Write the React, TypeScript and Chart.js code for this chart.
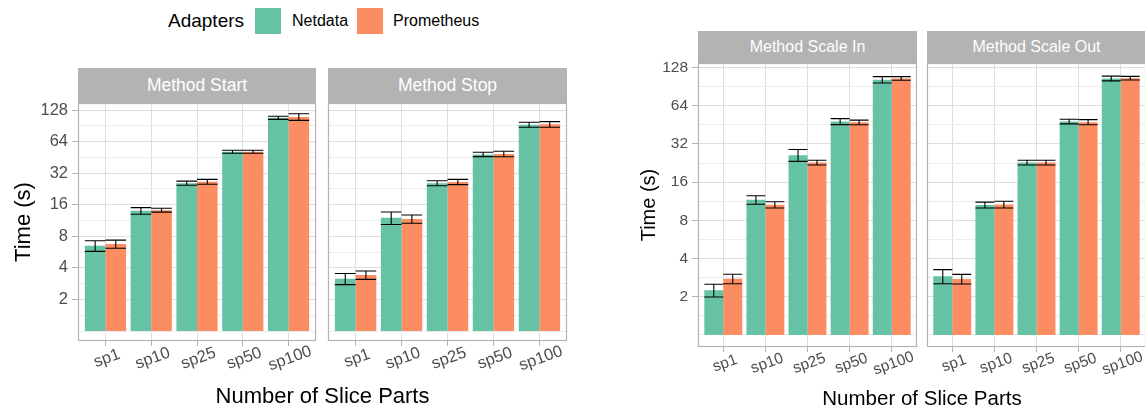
import React, { useEffect, useRef } from 'react';
import { Chart, registerables } from 'chart.js';

Chart.register(...registerables);

const FONT = "'Liberation Sans', Arial, Helvetica, sans-serif";
Chart.defaults.font.family = FONT;

// ---------- data ----------
const categories = ['sp1', 'sp10', 'sp25', 'sp50', 'sp100'];
const seriesNames = ['Netdata', 'Prometheus'];
const seriesColors = ['#66C2A5', '#FC8D62'];
const facetTitles = ['Method Start', 'Method Stop', 'Method Scale In', 'Method Scale Out'];
const legendTitle = 'Adapters';
const xAxisTitle = 'Number of Slice Parts';
const yAxisTitle = 'Time (s)';
const yTickValues = [2, 4, 8, 16, 32, 64, 128];
const yTickLabels = ['2', '4', '8', '16', '32', '64', '128'];
const barBase = 1;

const startNetdata = [6.5, 14.0, 25.7, 51.2, 108];
const startNetdataErr = [0.75, 1.0, 1.15, 1.7, 3.7];
const startPrometheus = [6.75, 14.2, 26.5, 51.2, 110];
const startPrometheusErr = [0.6, 0.6, 1.4, 1.7, 8];

const stopNetdata = [3.15, 12.0, 25.7, 48.3, 92.7];
const stopNetdataErr = [0.38, 1.65, 1.4, 2.3, 5.0];
const stopPrometheus = [3.42, 11.7, 26.4, 48.8, 93.5];
const stopPrometheusErr = [0.31, 1.05, 1.5, 2.9, 5.7];

const scaleInNetdata = [2.25, 11.6, 26.1, 48.0, 102.5];
const scaleInNetdataErr = [0.26, 0.9, 2.8, 2.6, 6.0];
const scaleInPrometheus = [2.77, 10.6, 22.8, 47.3, 105];
const scaleInPrometheusErr = [0.24, 0.6, 1.0, 2.0, 3.5];

const scaleOutNetdata = [2.9, 10.56, 22.8, 48.0, 105];
const scaleOutNetdataErr = [0.37, 0.57, 1.0, 2.0, 4.5];
const scaleOutPrometheus = [2.76, 10.65, 22.8, 47.5, 105.5];
const scaleOutPrometheusErr = [0.24, 0.65, 1.0, 2.2, 3.5];

// ---------- plugin: error bars, panel border, x labels ----------
const panelPlugin: any = {
  id: 'panelDecor',
  afterDatasetsDraw(chart: any) {
    const { ctx, chartArea, scales } = chart;
    const y = scales.y;
    ctx.save();
    ctx.strokeStyle = '#000000';
    ctx.lineWidth = 1.1;
    chart.data.datasets.forEach((ds: any, di: number) => {
      const meta = chart.getDatasetMeta(di);
      meta.data.forEach((el: any, i: number) => {
        const m = ds.means[i];
        const e = ds.errs[i];
        const top = y.getPixelForValue(m + e);
        const bot = y.getPixelForValue(m - e);
        const half = el.width / 2;
        ctx.beginPath();
        ctx.moveTo(el.x, top);
        ctx.lineTo(el.x, bot);
        ctx.moveTo(el.x - half, top);
        ctx.lineTo(el.x + half, top);
        ctx.moveTo(el.x - half, bot);
        ctx.lineTo(el.x + half, bot);
        ctx.stroke();
      });
    });
    ctx.strokeStyle = '#B3B3B3';
    ctx.lineWidth = 1.2;
    ctx.strokeRect(chartArea.left + 0.5, chartArea.top + 0.5, chartArea.width - 1, chartArea.height - 1);
    ctx.restore();
  },
  afterDraw(chart: any, _args: any, opts: any) {
    const { ctx, chartArea, scales } = chart;
    const xs = scales.x;
    ctx.save();
    ctx.fillStyle = '#4D4D4D';
    ctx.font = `${opts.font}px ${FONT}`;
    ctx.textAlign = 'center';
    ctx.textBaseline = 'middle';
    categories.forEach((c, i) => {
      const x = xs.getPixelForValue(i + 1) + opts.dx;
      const yy = chartArea.bottom + opts.dy;
      ctx.save();
      ctx.translate(x, yy);
      ctx.rotate((-20 * Math.PI) / 180);
      ctx.fillText(c, 0, 0);
      ctx.restore();
    });
    ctx.restore();
  },
};

type PanelProps = {
  left: number;
  top: number;
  width: number;
  height: number;
  yAxisW: number;
  showY: boolean;
  yMin: number;
  yMax: number;
  netdata: number[];
  netdataErr: number[];
  prometheus: number[];
  prometheusErr: number[];
  tickFont: number;
  labelDx: number;
  labelDy: number;
};

function Panel(p: PanelProps) {
  const ref = useRef<HTMLCanvasElement>(null);
  const padL = 2;
  const padT = 22;
  const padR = 4;
  const xAxisH = 44;
  const cw = padL + p.yAxisW + p.width + padR;
  const ch = padT + p.height + xAxisH;

  useEffect(() => {
    const isMajor = (v: number) => yTickValues.some((t) => Math.abs(t - v) < 1e-6);
    const ext = [yTickValues[0] / 2, ...yTickValues, yTickValues[yTickValues.length - 1] * 2];
    const minor: number[] = [];
    for (let i = 0; i < ext.length - 1; i++) minor.push(Math.sqrt(ext[i] * ext[i + 1]));
    const gridValues = [...ext, ...minor]
      .filter((v) => v >= p.yMin && v <= p.yMax)
      .sort((a, b) => a - b);

    const series = [
      { means: p.netdata, errs: p.netdataErr },
      { means: p.prometheus, errs: p.prometheusErr },
    ];

    const chart = new Chart(ref.current as HTMLCanvasElement, {
      type: 'bar',
      data: {
        datasets: series.map((s, si) => ({
          label: seriesNames[si],
          data: s.means.map((v, i) => ({ x: i + 1, y: [barBase, v] })),
          means: s.means,
          errs: s.errs,
          backgroundColor: seriesColors[si],
          borderWidth: 0,
          categoryPercentage: 0.9,
          barPercentage: 1.0,
        })) as any,
      },
      options: {
        responsive: false,
        animation: false,
        events: [],
        layout: { padding: { left: padL, top: padT, right: padR, bottom: 0 } },
        plugins: {
          legend: { display: false },
          tooltip: { enabled: false },
          title: { display: false },
          panelDecor: { font: p.tickFont, dx: p.labelDx, dy: p.labelDy },
        } as any,
        scales: {
          x: {
            type: 'linear',
            offset: false,
            min: 0.4,
            max: categories.length + 0.6,
            bounds: 'data',
            afterBuildTicks: (s: any) => {
              s.ticks = categories.map((_, i) => ({ value: i + 1 }));
            },
            afterFit: (s: any) => {
              s.height = xAxisH;
            },
            ticks: { display: false },
            grid: {
              offset: false,
              color: '#DEDEDE',
              lineWidth: 1,
              drawTicks: true,
              tickLength: 5,
              tickColor: '#B3B3B3',
              tickWidth: 1,
            },
            border: { display: false },
          },
          y: {
            type: 'logarithmic',
            min: p.yMin,
            max: p.yMax,
            bounds: 'data',
            afterBuildTicks: (s: any) => {
              s.ticks = gridValues.map((v) => ({ value: v }));
            },
            afterFit: (s: any) => {
              s.width = p.yAxisW;
            },
            ticks: {
              display: p.showY,
              autoSkip: false,
              padding: 4,
              color: '#4D4D4D',
              font: { size: p.tickFont, family: FONT },
              callback: (v: any) => {
                const k = yTickValues.findIndex((t) => Math.abs(t - Number(v)) < 1e-6);
                return k >= 0 ? yTickLabels[k] : '';
              },
            },
            grid: {
              color: (c: any) => (c.tick && isMajor(c.tick.value) ? '#DEDEDE' : '#EDEDED'),
              lineWidth: 1,
              drawTicks: p.showY,
              tickLength: 6,
              tickWidth: 1,
              tickColor: (c: any) => (c.tick && isMajor(c.tick.value) ? '#B3B3B3' : 'rgba(0,0,0,0)'),
            },
            border: { display: false },
          },
        } as any,
      },
      plugins: [panelPlugin],
    });
    return () => chart.destroy();
  }, []);

  return (
    <canvas
      ref={ref}
      width={cw}
      height={ch}
      style={{
        position: 'absolute',
        left: p.left - p.yAxisW - padL,
        top: p.top - padT,
        width: cw,
        height: ch,
      }}
    />
  );
}

function Strip(props: { left: number; top: number; width: number; height: number; text: string; size: number }) {
  return (
    <div
      style={{
        position: 'absolute',
        left: props.left,
        top: props.top,
        width: props.width,
        height: props.height,
        background: '#B3B3B3',
        color: '#FFFFFF',
        fontSize: props.size,
        display: 'flex',
        alignItems: 'center',
        justifyContent: 'center',
        whiteSpace: 'nowrap',
      }}
    >
      {props.text}
    </div>
  );
}

function YTitle(props: { cx: number; cy: number; size: number }) {
  return (
    <div
      style={{
        position: 'absolute',
        left: props.cx - 100,
        top: props.cy - 15,
        width: 200,
        height: 30,
        lineHeight: '30px',
        textAlign: 'center',
        fontSize: props.size,
        color: '#000',
        transform: 'rotate(-90deg)',
        whiteSpace: 'nowrap',
      }}
    >
      {yAxisTitle}
    </div>
  );
}

function XTitle(props: { cx: number; top: number; size: number }) {
  return (
    <div
      style={{
        position: 'absolute',
        left: props.cx - 200,
        top: props.top,
        width: 400,
        lineHeight: `${props.size}px`,
        textAlign: 'center',
        fontSize: props.size,
        color: '#000',
        whiteSpace: 'nowrap',
      }}
    >
      {xAxisTitle}
    </div>
  );
}

function Legend() {
  const item = (i: number, sx: number, tx: number) => (
    <React.Fragment key={i}>
      <div style={{ position: 'absolute', left: sx, top: 8, width: 26, height: 26, background: seriesColors[i] }} />
      <div
        style={{
          position: 'absolute',
          left: tx,
          top: 8,
          height: 26,
          display: 'flex',
          alignItems: 'center',
          fontSize: 16,
          color: '#000',
          whiteSpace: 'nowrap',
        }}
      >
        {seriesNames[i]}
      </div>
    </React.Fragment>
  );
  return (
    <>
      <div
        style={{
          position: 'absolute',
          left: 168,
          top: 8,
          height: 26,
          display: 'flex',
          alignItems: 'center',
          fontSize: 19,
          color: '#000',
          whiteSpace: 'nowrap',
        }}
      >
        {legendTitle}
      </div>
      {item(0, 255, 292)}
      {item(1, 357, 393)}
    </>
  );
}

export default function App() {
  const L = { top: 103, height: 238, yMin: 0.803, yMax: 149.3 };
  const R = { top: 63, height: 284, yMin: 0.803, yMax: 138.9 };
  return (
    <div
      style={{
        position: 'absolute',
        left: 0,
        top: 0,
        width: 1145,
        height: 410,
        overflow: 'hidden',
        background: '#FFFFFF',
        fontFamily: FONT,
      }}
    >
      <Panel
        left={78} top={L.top} width={238} height={L.height} yAxisW={76} showY={true}
        yMin={L.yMin} yMax={L.yMax}
        netdata={startNetdata} netdataErr={startNetdataErr}
        prometheus={startPrometheus} prometheusErr={startPrometheusErr}
        tickFont={16.5} labelDx={1.5} labelDy={17.5}
      />
      <Panel
        left={328} top={L.top} width={239} height={L.height} yAxisW={0} showY={false}
        yMin={L.yMin} yMax={L.yMax}
        netdata={stopNetdata} netdataErr={stopNetdataErr}
        prometheus={stopPrometheus} prometheusErr={stopPrometheusErr}
        tickFont={16.5} labelDx={1.5} labelDy={17.5}
      />
      <Panel
        left={698} top={R.top} width={219} height={R.height} yAxisW={62} showY={true}
        yMin={R.yMin} yMax={R.yMax}
        netdata={scaleInNetdata} netdataErr={scaleInNetdataErr}
        prometheus={scaleInPrometheus} prometheusErr={scaleInPrometheusErr}
        tickFont={15.5} labelDx={1.8} labelDy={16.5}
      />
      <Panel
        left={927} top={R.top} width={219} height={R.height} yAxisW={0} showY={false}
        yMin={R.yMin} yMax={R.yMax}
        netdata={scaleOutNetdata} netdataErr={scaleOutNetdataErr}
        prometheus={scaleOutPrometheus} prometheusErr={scaleOutPrometheusErr}
        tickFont={15.5} labelDx={1.8} labelDy={16.5}
      />

      <Strip left={78} top={68} width={238} height={35} text={facetTitles[0]} size={17.5} />
      <Strip left={328} top={68} width={239} height={35} text={facetTitles[1]} size={17.5} />
      <Strip left={698} top={31} width={219} height={32} text={facetTitles[2]} size={16} />
      <Strip left={927} top={31} width={219} height={32} text={facetTitles[3]} size={16} />

      <Legend />

      <YTitle cx={23} cy={222} size={22} />
      <YTitle cx={648} cy={205} size={20} />
      <XTitle cx={322.5} top={384.5} size={22} />
      <XTitle cx={922} top={387.5} size={20.5} />
    </div>
  );
}
